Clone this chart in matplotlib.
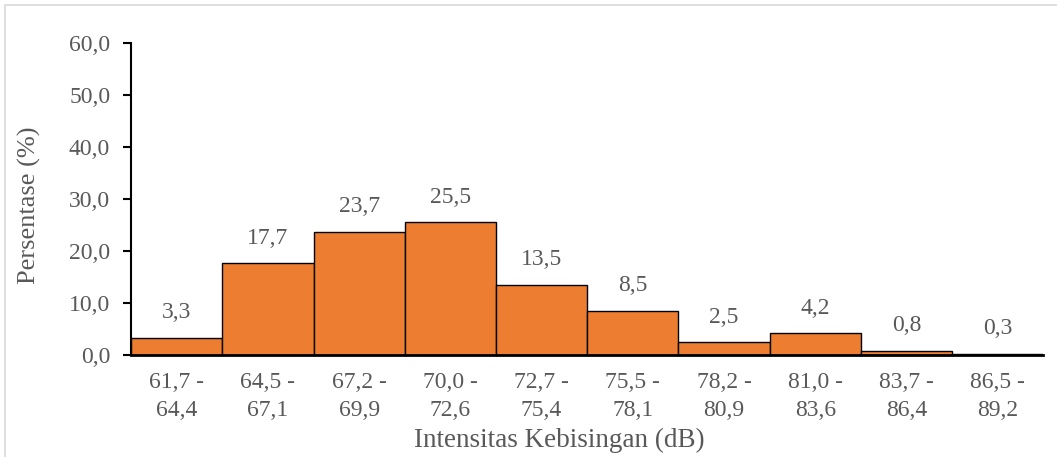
import matplotlib.pyplot as plt
from matplotlib.patches import Rectangle

# kelas intensitas kebisingan dan persentase
kelas = ["61,7 -\n64,4", "64,5 -\n67,1", "67,2 -\n69,9", "70,0 -\n72,6", "72,7 -\n75,4",
         "75,5 -\n78,1", "78,2 -\n80,9", "81,0 -\n83,6", "83,7 -\n86,4", "86,5 -\n89,2"]
persen = [3.3, 17.7, 23.7, 25.5, 13.5, 8.5, 2.5, 4.2, 0.8, 0.3]
yticks = [0, 10, 20, 30, 40, 50, 60]

plt.rcParams['font.family'] = ['Liberation Serif', 'DejaVu Serif']
teks = '#595959'

fig = plt.figure(figsize=(10.57, 4.57), dpi=100)
ax = fig.add_axes([0.124, 0.223, 0.863, 0.683])

x = list(range(len(persen)))
ax.bar(x, persen, width=1.0, color='#ED7D31', edgecolor='black', linewidth=1.0)

# label nilai di atas batang
for xi, v in zip(x, persen):
    ax.annotate(f"{v:.1f}".replace('.', ','), (xi, v), xytext=(0, 18),
                textcoords='offset points', ha='center', va='center',
                fontsize=17, color=teks)

ax.set_xlim(-0.5, len(persen) - 0.5)
ax.set_ylim(0, 60)
ax.set_yticks(yticks)
ax.set_yticklabels([f"{t:.1f}".replace('.', ',') for t in yticks])
ax.set_xticks(x)
ax.set_xticklabels(kelas, linespacing=1.45)
ax.tick_params(axis='y', length=6, width=1.5, color='black', labelsize=17,
               labelcolor=teks, pad=9)
ax.tick_params(axis='x', length=0, labelsize=17, labelcolor=teks, pad=12)

for s in ['top', 'right']:
    ax.spines[s].set_visible(False)
ax.spines['left'].set_linewidth(1.5)
ax.spines['bottom'].set_linewidth(2)

ax.set_ylabel("Persentase (%)", fontsize=19, color=teks, va='center')
ax.yaxis.set_label_coords(-0.111, 0.48)
ax.set_xlabel("Intensitas Kebisingan (dB)", fontsize=19.5, color=teks, va='center')
ax.xaxis.set_label_coords(0.470, -0.272)

# bingkai tipis di sekeliling gambar
fig.patches.append(Rectangle((0.005, -0.01), 1.1, 0.999, transform=fig.transFigure,
                             fill=False, edgecolor='#D9D9D9', linewidth=1.2))

fig.savefig("out.png", dpi=100)
